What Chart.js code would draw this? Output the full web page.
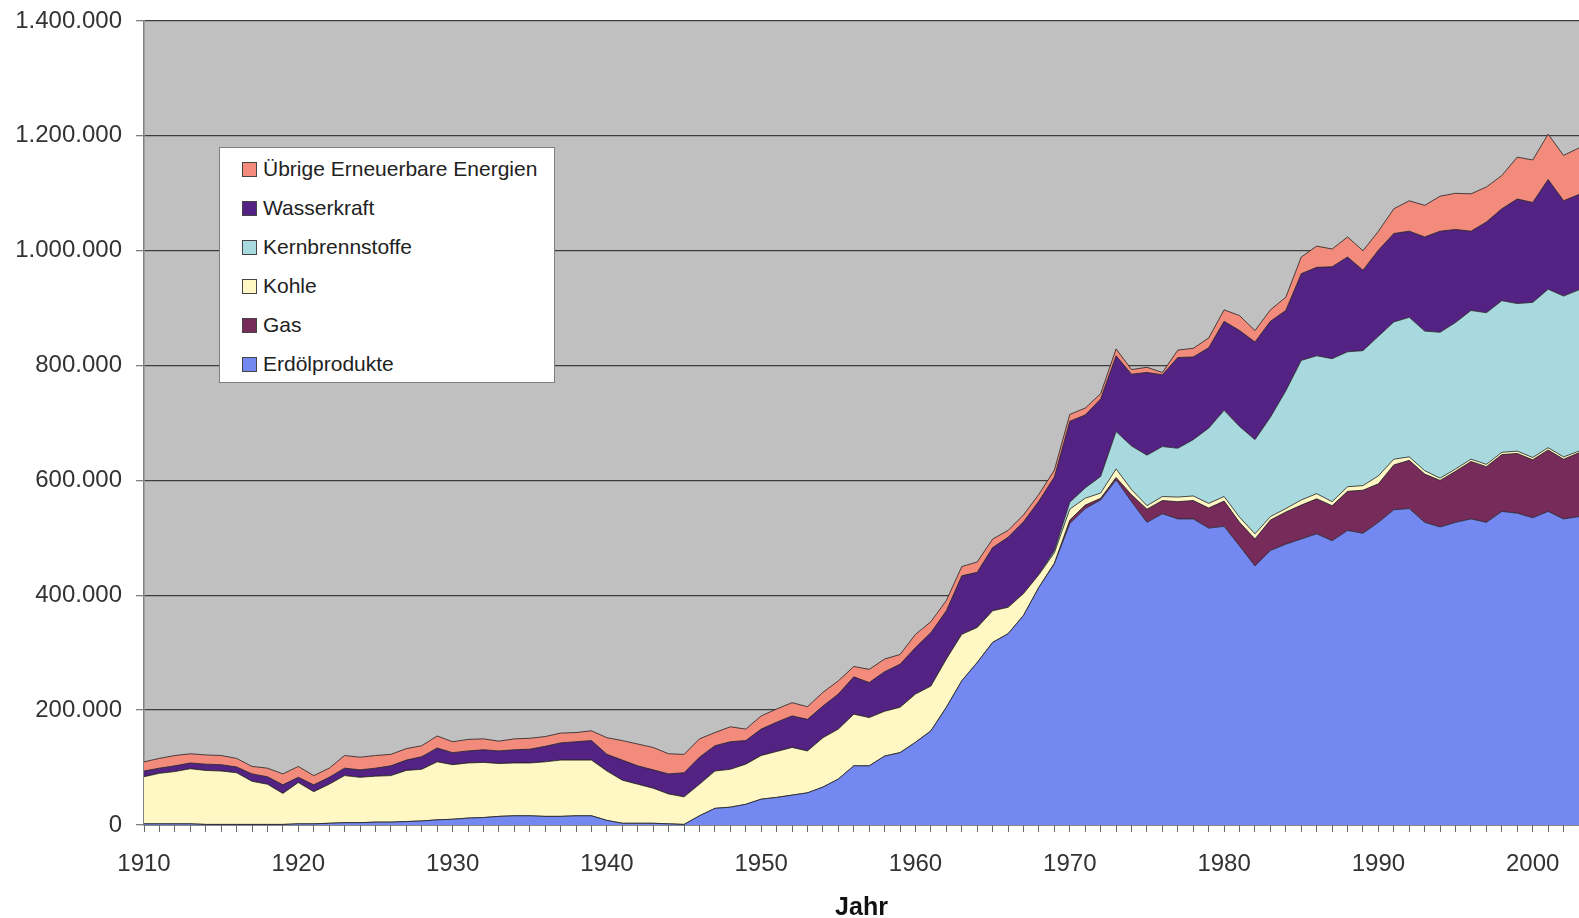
<!DOCTYPE html>
<html lang="de">
<head>
<meta charset="utf-8">
<title>Energieverbrauch nach Energieträgern</title>
<script src="https://cdn.jsdelivr.net/npm/chart.js@4.4.1/dist/chart.umd.min.js"></script>
<style>
    html, body { margin: 0; padding: 0; background: #fff; }
    #wrap { position: relative; width: 1579px; height: 918px; overflow: hidden; }
    #chart { display: block; }
    #legend {
        position: absolute; left: 219px; top: 147px; width: 334px; height: 234px;
        background: #fff; border: 1px solid #7f7f7f;
        font-family: "Liberation Sans", Arial, sans-serif; font-size: 21px; color: #222;
    }
    .item { position: absolute; left: 22px; height: 24px; line-height: 24px; white-space: nowrap; }
    .swatch { display: inline-block; width: 13px; height: 13px; border: 1px solid #444; margin-right: 6px; vertical-align: -1px; }
</style>
</head>
<body>
<div id="wrap">
    <canvas id="chart" width="1579" height="918"></canvas>
    <div id="legend"></div>
</div>
<script>
// years 1910 .. 2003
const years = Array.from({ length: 94 }, (_, i) => 1910 + i);
const labelYears = [1910, 1920, 1930, 1940, 1950, 1960, 1970, 1980, 1990, 2000];
const yTicks = [0, 200000, 400000, 600000, 800000, 1000000, 1200000, 1400000];

const seriesNames = ['Erdölprodukte', 'Gas', 'Kohle', 'Kernbrennstoffe', 'Wasserkraft', 'Übrige Erneuerbare Energien'];
const seriesColors = ['#7388f0', '#762b5a', '#fff8c4', '#a8d9de', '#532283', '#f28b7c'];

const erdoel = [
    2000, 2000, 2000, 2000, 1000, 1000, 1000, 1000, 1000, 1000,
    2000, 2000, 3000, 4000, 4000, 5000, 5000, 6000, 7000, 9000,
    10000, 12000, 13000, 15000, 16000, 16000, 15000, 15000, 16000, 16000,
    8000, 3000, 3000, 3000, 2000, 1000, 16000, 29000, 31000, 36000,
    45000, 48000, 52000, 56000, 66000, 80000, 103000, 103000, 120000, 126000,
    144000, 164000, 205000, 251000, 283000, 318000, 333000, 365000, 414000, 455000,
    525000, 551000, 566000, 601000, 563000, 527000, 542000, 533000, 533000, 517000,
    520000, 486000, 451000, 478000, 489000, 498000, 507000, 495000, 513000, 508000,
    527000, 549000, 551000, 527000, 519000, 527000, 533000, 527000, 546000, 543000,
    535000, 546000, 533000, 537000
];
const gas = [
    0, 0, 0, 0, 0, 0, 0, 0, 0, 0,
    0, 0, 0, 0, 0, 0, 0, 0, 0, 0,
    0, 0, 0, 0, 0, 0, 0, 0, 0, 0,
    0, 0, 0, 0, 0, 0, 0, 0, 0, 0,
    0, 0, 0, 0, 0, 0, 0, 0, 0, 0,
    0, 0, 0, 0, 0, 0, 0, 0, 0, 1000,
    6000, 6000, 3000, 4000, 12000, 23000, 23000, 30000, 32000, 35000,
    44000, 41000, 47000, 53000, 56000, 59000, 61000, 61000, 68000, 75000,
    67000, 78000, 84000, 84000, 81000, 89000, 100000, 97000, 99000, 104000,
    101000, 107000, 104000, 111000
];
const kohle = [
    82000, 88000, 91000, 96000, 94000, 93000, 90000, 75000, 70000, 54000,
    72000, 56000, 68000, 82000, 79000, 80000, 81000, 89000, 90000, 101000,
    95000, 96000, 96000, 92000, 92000, 92000, 95000, 98000, 97000, 97000,
    86000, 75000, 68000, 61000, 52000, 48000, 55000, 65000, 66000, 70000,
    76000, 80000, 83000, 73000, 86000, 87000, 90000, 84000, 78000, 79000,
    84000, 78000, 84000, 81000, 61000, 55000, 46000, 38000, 22000, 18000,
    19000, 12000, 9000, 15000, 9000, 6000, 7000, 8000, 8000, 8000,
    8000, 9000, 9000, 6000, 6000, 9000, 9000, 7000, 8000, 8000,
    14000, 10000, 6000, 6000, 4000, 4000, 4000, 4000, 4000, 4000,
    4000, 4000, 4000, 3000
];
const kern = [
    0, 0, 0, 0, 0, 0, 0, 0, 0, 0,
    0, 0, 0, 0, 0, 0, 0, 0, 0, 0,
    0, 0, 0, 0, 0, 0, 0, 0, 0, 0,
    0, 0, 0, 0, 0, 0, 0, 0, 0, 0,
    0, 0, 0, 0, 0, 0, 0, 0, 0, 0,
    0, 0, 0, 0, 0, 0, 0, 0, 0, 4000,
    12000, 18000, 29000, 65000, 76000, 88000, 87000, 85000, 98000, 131000,
    150000, 158000, 164000, 173000, 205000, 243000, 240000, 249000, 235000, 235000,
    243000, 239000, 243000, 243000, 254000, 255000, 259000, 264000, 264000, 257000,
    270000, 276000, 280000, 281000
];
const wasser = [
    10000, 9000, 10000, 10000, 11000, 11000, 10000, 13000, 13000, 15000,
    9000, 12000, 12000, 13000, 13000, 14000, 17000, 18000, 22000, 24000,
    21000, 21000, 22000, 22000, 23000, 24000, 27000, 30000, 32000, 34000,
    29000, 35000, 32000, 32000, 35000, 42000, 47000, 44000, 48000, 41000,
    46000, 51000, 55000, 55000, 55000, 61000, 65000, 61000, 69000, 75000,
    81000, 93000, 84000, 102000, 96000, 110000, 122000, 125000, 128000, 128000,
    141000, 127000, 135000, 132000, 125000, 144000, 125000, 158000, 144000, 140000,
    155000, 167000, 170000, 167000, 140000, 151000, 154000, 160000, 165000, 140000,
    150000, 154000, 150000, 164000, 176000, 162000, 138000, 158000, 160000, 182000,
    174000, 191000, 166000, 166000
];
const uebrige = [
    16000, 17000, 18000, 16000, 16000, 16000, 15000, 13000, 15000, 19000,
    19000, 16000, 16000, 22000, 22000, 22000, 20000, 20000, 19000, 21000,
    19000, 20000, 19000, 17000, 19000, 19000, 17000, 17000, 16000, 17000,
    29000, 34000, 38000, 39000, 35000, 32000, 32000, 23000, 26000, 20000,
    23000, 23000, 23000, 22000, 24000, 23000, 18000, 23000, 22000, 17000,
    23000, 19000, 18000, 16000, 18000, 15000, 12000, 12000, 12000, 12000,
    12000, 12000, 9000, 12000, 8000, 9000, 4000, 13000, 15000, 17000,
    20000, 26000, 20000, 20000, 23000, 29000, 37000, 31000, 35000, 34000,
    33000, 43000, 53000, 55000, 61000, 63000, 65000, 61000, 58000, 73000,
    74000, 79000, 79000, 81000
];

const seriesValues = [erdoel, gas, kohle, kern, wasser, uebrige];

function formatDE(v) {
    return String(v).replace(/\B(?=(\d{3})+(?!\d))/g, '.');
}

const plotBackground = {
    id: 'plotBackground',
    beforeDraw(chart) {
        const { ctx, chartArea: a } = chart;
        ctx.save();
        ctx.fillStyle = '#c0c0c0';
        ctx.fillRect(a.left, a.top, a.right - a.left, a.bottom - a.top);
        ctx.restore();
    }
};

Chart.defaults.font.family = '"Liberation Sans", Arial, sans-serif';

const datasets = seriesValues.map((vals, i) => ({
    label: seriesNames[i],
    data: vals.map((v, j) => ({ x: years[j], y: v })),
    backgroundColor: seriesColors[i],
    borderColor: 'rgba(35,35,35,0.8)',
    borderWidth: 1,
    pointRadius: 0,
    tension: 0,
    fill: i === 0 ? 'origin' : '-1'
}));

new Chart(document.getElementById('chart'), {
    type: 'line',
    data: { datasets },
    options: {
        responsive: false,
        animation: false,
        layout: { padding: { top: 21, right: 0, bottom: 0, left: 0 } },
        plugins: {
            legend: { display: false },
            tooltip: { enabled: false }
        },
        scales: {
            x: {
                type: 'linear',
                min: 1910,
                max: 2003,
                afterFit: (scale) => {
                    scale.height = 93;
                    scale.paddingLeft = 0;
                    scale.paddingRight = 0;
                },
                grid: {
                    drawOnChartArea: false,
                    tickLength: 7,
                    tickColor: '#6a6a6a',
                    lineWidth: 1
                },
                border: { color: '#404040', width: 1.5 },
                ticks: {
                    stepSize: 1,
                    autoSkip: false,
                    maxRotation: 0,
                    padding: 18,
                    color: '#333',
                    font: { size: 24 },
                    callback: (v) => labelYears.includes(v) ? String(v) : ''
                },
                title: {
                    display: true,
                    text: 'Jahr',
                    color: '#111',
                    font: { size: 25, weight: 'bold', lineHeight: 0.8 },
                    padding: { top: 0, bottom: 0 }
                }
            },
            y: {
                stacked: true,
                min: 0,
                max: 1400000,
                afterFit: (scale) => {
                    scale.width = 144;
                    scale.paddingTop = 0;
                    scale.paddingBottom = 0;
                },
                afterBuildTicks: (scale) => { scale.ticks = yTicks.map(v => ({ value: v })); },
                grid: {
                    color: '#3c3c3c',
                    lineWidth: 1.3,
                    tickLength: 8,
                    tickColor: '#808080'
                },
                border: { color: '#808080', width: 1.5 },
                ticks: {
                    padding: 14,
                    color: '#333',
                    font: { size: 24 },
                    callback: (v) => formatDE(v)
                }
            }
        }
    },
    plugins: [plotBackground]
});

// legend box inside the plot, top entry = top layer
const legend = document.getElementById('legend');
seriesNames.slice().reverse().forEach((name, k) => {
    const i = seriesNames.length - 1 - k;
    const item = document.createElement('div');
    item.className = 'item';
    item.style.top = (9 + k * 38.9) + 'px';
    const sw = document.createElement('span');
    sw.className = 'swatch';
    sw.style.background = seriesColors[i];
    item.appendChild(sw);
    item.appendChild(document.createTextNode(name));
    legend.appendChild(item);
});
</script>
</body>
</html>
